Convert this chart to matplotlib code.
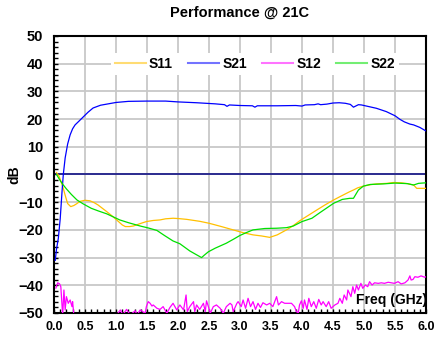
import numpy as np
import matplotlib
matplotlib.use("Agg")
from matplotlib import pyplot as plt
from matplotlib.lines import Line2D

plt.rcParams['font.family'] = ['Liberation Sans', 'DejaVu Sans']
plt.rcParams['font.weight'] = 'bold'

# S11
s11_f = [0.04, 0.08, 0.12, 0.15, 0.18, 0.22, 0.27, 0.32, 0.37, 0.42, 0.50, 0.58, 0.65, 0.71, 0.78,
         0.85, 0.95, 1.04, 1.10, 1.15, 1.22, 1.28, 1.38, 1.49, 1.60, 1.71, 1.80, 1.92, 2.00, 2.14,
         2.35, 2.50, 2.70, 2.89, 3.05, 3.21, 3.35, 3.48, 3.60, 3.75, 3.85, 3.97, 4.07, 4.24, 4.37,
         4.51, 4.63, 4.77, 4.83, 4.90, 4.99, 5.10, 5.20, 5.37, 5.47, 5.60, 5.70, 5.80, 5.85, 6.00]
s11_db = [0.7, -0.5, -3.0, -5.0, -7.5, -10.5, -11.6, -11.2, -10.5, -9.7, -9.3, -9.5, -10.2, -11.0, -12.2,
          -13.4, -15.2, -17.0, -18.2, -18.8, -18.8, -18.6, -17.8, -17.0, -16.6, -16.4, -16.0, -15.8, -15.9, -16.2,
          -16.9, -17.6, -18.8, -20.0, -21.0, -21.8, -22.2, -22.7, -21.8, -20.0, -18.6, -16.6, -15.2, -12.8, -11.0,
          -9.2, -7.8, -6.2, -5.6, -4.8, -4.2, -3.7, -3.4, -3.2, -2.9, -3.0, -3.3, -3.8, -5.0, -5.0]

# S21
s21_f = [0.02, 0.04, 0.07, 0.10, 0.13, 0.15, 0.18, 0.22, 0.26, 0.30, 0.34, 0.40, 0.45, 0.55, 0.63,
         0.75, 0.85, 1.00, 1.20, 1.50, 1.80, 2.00, 2.30, 2.60, 2.75, 2.79, 2.83, 3.00, 3.20, 3.24,
         3.28, 3.60, 3.90, 4.00, 4.05, 4.20, 4.26, 4.30, 4.40, 4.50, 4.60, 4.70, 4.78, 4.83, 4.91,
         4.96, 5.04, 5.20, 5.36, 5.50, 5.58, 5.65, 5.74, 5.80, 5.90, 6.00]
s21_db = [-31.0, -27.0, -23.0, -16.0, -6.0, 0.0, 6.0, 11.0, 14.3, 16.5, 17.9, 19.2, 20.3, 22.5, 24.0,
          25.0, 25.4, 26.0, 26.4, 26.5, 26.5, 26.2, 25.9, 25.5, 25.2, 24.6, 25.1, 24.9, 24.8, 24.3,
          24.8, 24.8, 24.9, 24.7, 25.1, 25.2, 25.5, 25.2, 25.4, 25.8, 25.9, 25.7, 25.3, 24.3, 25.2,
          25.1, 24.7, 23.9, 22.7, 21.2, 19.9, 19.0, 18.2, 17.9, 17.0, 15.7]

# S12
s12_f = [0.03, 0.06, 0.09, 0.11, 0.14, 0.16, 0.18, 0.20, 0.23, 0.26, 0.29, 0.30, 0.32, 0.40, 0.60,
         0.80, 1.00, 1.07, 1.11, 1.17, 1.23, 1.31, 1.34, 1.39, 1.47, 1.49, 1.52, 1.55, 1.58, 1.60,
         1.66, 1.71, 1.76, 1.82, 1.87, 1.92, 1.98, 2.03, 2.09, 2.13, 2.15, 2.19, 2.25, 2.27, 2.30,
         2.35, 2.41, 2.44, 2.46, 2.49, 2.52, 2.57, 2.62, 2.68, 2.73, 2.78, 2.84, 2.87, 2.89, 2.95,
         2.97, 3.02, 3.05, 3.09, 3.13, 3.17, 3.21, 3.25, 3.29, 3.33, 3.37, 3.43, 3.48, 3.53, 3.59,
         3.62, 3.67, 3.72, 3.77, 3.83, 3.88, 3.91, 3.94, 3.96, 3.99, 4.02, 4.04, 4.08, 4.11, 4.15,
         4.19, 4.23, 4.27, 4.31, 4.34, 4.39, 4.43, 4.47, 4.53, 4.58, 4.61, 4.65, 4.68, 4.72, 4.74,
         4.79, 4.82, 4.85, 4.88, 4.91, 4.95, 4.98, 5.02, 5.06, 5.09, 5.13, 5.17, 5.23, 5.28, 5.33,
         5.39, 5.44, 5.49, 5.55, 5.60, 5.66, 5.71, 5.74, 5.76, 5.79, 5.82, 5.87, 5.92, 5.98, 6.00]
s12_db = [-41.0, -39.1, -39.5, -40.5, -51.0, -41.7, -48.9, -44.1, -46.5, -45.3, -47.7, -45.9, -50.7, -56.0, -54.0,
          -57.0, -51.0, -48.9, -50.7, -48.7, -50.7, -49.2, -50.7, -48.9, -50.1, -47.7, -45.9, -46.5, -47.5, -47.1,
          -48.3, -48.7, -47.7, -50.1, -48.0, -46.5, -48.9, -47.1, -48.9, -43.5, -49.5, -47.7, -45.9, -49.5, -47.1,
          -48.7, -46.5, -49.5, -45.6, -47.7, -50.1, -47.7, -47.1, -48.3, -50.1, -47.7, -46.5, -47.1, -49.5, -46.5,
          -45.9, -47.7, -45.3, -48.3, -44.7, -47.7, -45.9, -48.7, -46.5, -48.0, -46.3, -47.1, -46.5, -47.7, -44.1,
          -47.1, -45.9, -46.5, -46.5, -46.5, -47.7, -49.5, -49.9, -47.1, -45.6, -48.3, -45.3, -48.7, -44.7, -47.7,
          -45.9, -48.3, -45.1, -47.1, -45.9, -47.7, -45.9, -48.3, -47.1, -46.5, -44.7, -46.5, -43.5, -45.3, -41.7,
          -44.1, -40.5, -42.9, -39.9, -41.7, -39.3, -41.1, -39.9, -40.5, -38.7, -39.9, -39.1, -39.3, -39.1, -39.3,
          -38.9, -39.1, -39.3, -38.7, -39.5, -39.1, -38.1, -36.6, -38.1, -37.9, -36.9, -37.1, -36.6, -37.1, -36.9]

# S22
s22_f = [0.04, 0.10, 0.15, 0.20, 0.28, 0.37, 0.47, 0.60, 0.72, 0.85, 1.06, 1.20, 1.39, 1.52, 1.66,
         1.78, 1.92, 2.03, 2.19, 2.30, 2.38, 2.42, 2.49, 2.60, 2.78, 2.90, 3.00, 3.10, 3.21, 3.40,
         3.59, 3.75, 3.86, 4.00, 4.16, 4.30, 4.51, 4.65, 4.77, 4.83, 4.91, 4.99, 5.10, 5.31, 5.50,
         5.70, 5.80, 5.88, 6.00]
s22_db = [0.0, -2.2, -3.8, -5.2, -7.2, -9.2, -10.6, -12.2, -13.2, -14.2, -16.4, -17.4, -18.6, -19.3, -20.2,
          -22.0, -24.0, -25.0, -27.6, -29.0, -30.0, -29.2, -27.9, -26.6, -24.8, -23.3, -22.0, -21.0, -20.0, -19.5,
          -19.4, -19.2, -18.6, -17.0, -15.8, -13.6, -10.4, -9.0, -8.6, -8.6, -5.6, -4.2, -3.6, -3.4, -3.1,
          -3.3, -3.8, -3.2, -3.0]

names = ["S11", "S21", "S12", "S22"]
colors = ["#FFC000", "#0000FF", "#FF00FF", "#00E000"]

fig = plt.figure(figsize=(4.38, 3.48), dpi=100)
ax = fig.add_axes([0.1233, 0.1006, 0.8493, 0.796])

# 0 dB line
ax.axhline(0, color="#000080", lw=1.1, zorder=2)

data = [(s11_f, s11_db), (s21_f, s21_db), (s12_f, s12_db), (s22_f, s22_db)]
for (f, db), c in zip(data, colors):
    ax.plot(f, db, color=c, lw=0.9, zorder=3)

ax.set_xlim(0, 6)
ax.set_ylim(-50, 50)
ax.set_xticks(np.arange(0, 6.01, 0.5))
ax.set_yticks(np.arange(-50, 51, 10))
ax.set_xticks(np.arange(0, 6.01, 0.1), minor=True)
ax.set_yticks(np.arange(-50, 51, 2), minor=True)
ax.set_xticklabels(["%.1f" % v for v in np.arange(0, 6.01, 0.5)])
ax.grid(True, which="major", color="#c8c8c8", lw=1.3, zorder=0)
ax.set_axisbelow(True)

ax.tick_params(axis="x", which="both", direction="in", length=3, width=1, pad=6, labelsize=9)
ax.tick_params(axis="y", which="both", direction="in", length=3, width=1, pad=8, labelsize=10.5)
for sp in ax.spines.values():
    sp.set_linewidth(1.5)

ax.set_title("Performance @ 21C", fontsize=10.5, fontweight="bold", pad=14)
ax.set_ylabel("dB", fontsize=10, fontweight="bold")
ax.yaxis.set_label_coords(-0.087, 0.5)
ax.text(1.003, 0.02, "Freq (GHz)", transform=ax.transAxes, ha="right", va="bottom",
        fontsize=10, fontweight="bold", zorder=5)

handles = [Line2D([], [], color=c, lw=1.5, alpha=0.55) for c in colors]
leg = ax.legend(handles, names, ncol=4, loc="center", bbox_to_anchor=(0.54, 0.9),
                frameon=True, fancybox=False, framealpha=1, edgecolor="white",
                fontsize=10, handlelength=2.2, handletextpad=0.25, columnspacing=1.1,
                borderpad=0.3, borderaxespad=0)
leg.get_frame().set_linewidth(0)

fig.savefig("out.png", dpi=100)
